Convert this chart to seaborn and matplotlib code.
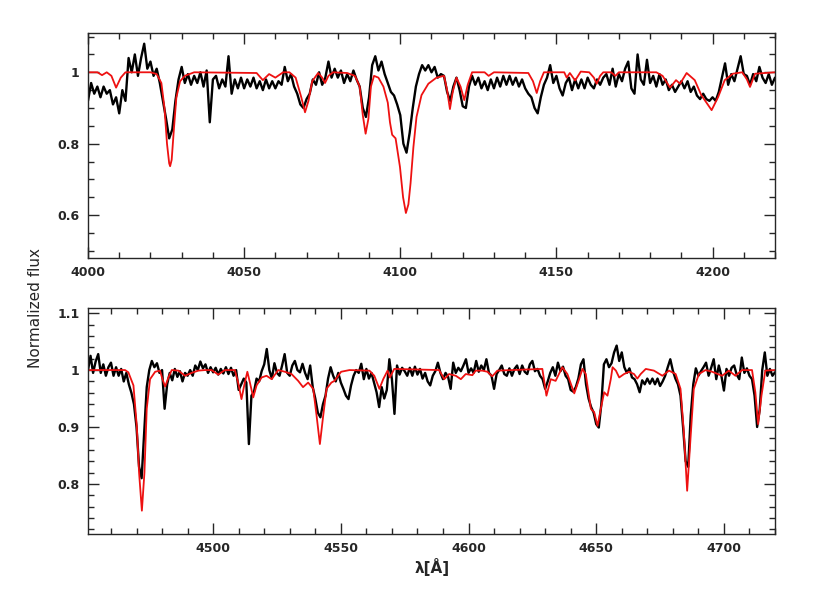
import numpy as np
import matplotlib
matplotlib.use("Agg")
import matplotlib.pyplot as plt
from matplotlib.ticker import MultipleLocator, FuncFormatter
import seaborn as sns

obs_top_start = 4000
obs_top_flux = [
    0.92, 0.97, 0.94, 0.96, 0.93, 0.96, 0.94, 0.95, 0.91, 0.93,        # 4000
    0.885, 0.95, 0.92, 1.04, 1.00, 1.05, 0.99, 1.04, 1.08, 1.01,       # 4010
    1.03, 0.99, 1.01, 0.97, 0.92, 0.87, 0.815, 0.84, 0.92, 0.98,       # 4020
    1.015, 0.97, 0.995, 0.965, 0.99, 0.97, 1.00, 0.96, 1.005, 0.86,    # 4030
    0.98, 0.99, 0.955, 0.98, 0.96, 1.045, 0.94, 0.98, 0.955, 0.985,    # 4040
    0.955, 0.98, 0.96, 0.985, 0.955, 0.975, 0.95, 0.98, 0.955, 0.975,  # 4050
    0.955, 0.975, 0.965, 1.015, 0.975, 0.995, 0.96, 0.94, 0.91, 0.90,  # 4060
    0.925, 0.94, 0.98, 0.965, 1.00, 0.965, 0.985, 1.03, 0.985, 1.01,   # 4070
    0.985, 1.005, 0.97, 0.995, 0.975, 1.005, 0.98, 0.96, 0.90, 0.875,  # 4080
    0.93, 1.02, 1.045, 1.005, 1.03, 0.995, 0.97, 0.945, 0.935, 0.91,   # 4090
    0.88, 0.80, 0.775, 0.83, 0.90, 0.96, 0.995, 1.02, 1.005, 1.02,     # 4100
    1.00, 1.015, 0.985, 0.995, 0.99, 0.945, 0.92, 0.96, 0.985, 0.95,   # 4110
    0.905, 0.90, 0.96, 0.99, 0.965, 0.985, 0.955, 0.975, 0.95, 0.98,   # 4120
    0.955, 0.985, 0.96, 0.99, 0.965, 0.99, 0.965, 0.985, 0.96, 0.98,   # 4130
    0.955, 0.94, 0.93, 0.90, 0.885, 0.93, 0.965, 0.985, 1.02, 0.97,    # 4140
    0.99, 0.955, 0.935, 0.97, 0.985, 0.95, 0.98, 0.955, 0.98, 0.955,   # 4150
    0.985, 0.965, 0.955, 0.98, 0.965, 0.985, 0.995, 0.965, 1.01, 0.96, # 4160
    0.995, 0.975, 1.01, 1.03, 0.955, 0.94, 1.05, 0.98, 0.965, 1.035,   # 4170
    0.97, 0.99, 0.96, 0.995, 0.965, 0.98, 0.95, 0.965, 0.945, 0.96,    # 4180
    0.975, 0.955, 0.975, 0.945, 0.96, 0.935, 0.925, 0.94, 0.925, 0.92, # 4190
    0.93, 0.92, 0.945, 0.985, 1.025, 0.965, 0.995, 0.975, 1.01, 1.045, # 4200
    0.995, 0.99, 0.965, 0.995, 0.975, 1.015, 0.985, 0.97, 0.995, 0.965,  # 4210
    0.985,                                                             # 4220
]

obs_bot_start = 4451
obs_bot_flux = [
    1.00, 1.025, 0.995, 1.015, 1.028, 0.995, 1.01, 0.99, 1.005, 1.013,   # 4451
    0.99, 1.005, 0.99, 1.002, 0.98, 0.995, 0.975, 0.96, 0.94, 0.90,      # 4461
    0.83, 0.81, 0.89, 0.97, 1.00, 1.016, 1.005, 1.012, 0.995, 1.00,      # 4471
    0.932, 0.975, 0.995, 0.982, 1.002, 0.988, 0.998, 0.98, 0.995, 0.99,  # 4481
    1.00, 0.99, 1.008, 1.00, 1.015, 1.003, 1.01, 0.995, 1.005, 0.996,    # 4491
    1.004, 0.992, 1.002, 0.994, 1.005, 0.993, 1.004, 0.99, 1.00, 0.965,  # 4501
    0.975, 0.985, 0.978, 0.87, 0.955, 0.962, 0.985, 0.98, 0.998, 1.01,   # 4511
    1.037, 1.00, 0.985, 1.012, 0.995, 0.99, 1.008, 1.028, 0.995, 0.99,   # 4521
    1.008, 1.016, 1.00, 0.996, 1.011, 0.995, 0.984, 1.008, 0.97, 0.95,   # 4531
    0.925, 0.917, 0.94, 0.955, 0.985, 1.005, 0.99, 0.98, 0.995, 0.978,   # 4541
    0.967, 0.955, 0.949, 0.973, 0.99, 1.00, 0.995, 1.011, 0.984, 1.002,  # 4551
    0.985, 0.995, 0.978, 0.961, 0.935, 0.97, 0.95, 0.965, 1.019, 0.984,  # 4561
    0.923, 1.008, 0.992, 1.004, 0.998, 0.99, 1.004, 0.99, 1.006, 0.992,  # 4571
    1.002, 0.985, 0.995, 0.98, 0.973, 0.99, 0.998, 1.013, 0.995, 0.984,  # 4581
    0.995, 0.988, 0.967, 1.013, 0.995, 1.004, 0.998, 1.008, 1.019, 0.995,  # 4591
    1.003, 0.995, 1.016, 0.997, 1.008, 1.00, 1.019, 0.995, 0.99, 0.967,  # 4601
    0.993, 1.00, 1.008, 0.993, 0.99, 1.003, 0.99, 1.002, 1.008, 0.993,   # 4611
    1.008, 0.997, 0.993, 1.01, 1.016, 0.998, 1.002, 0.99, 0.984, 0.967,  # 4621
    0.98, 0.995, 1.005, 0.99, 1.013, 0.998, 1.006, 0.99, 0.984, 0.965,   # 4631
    0.962, 0.97, 0.985, 1.01, 1.019, 0.975, 0.95, 0.935, 0.925, 0.905,   # 4641
    0.899, 0.94, 1.01, 1.019, 1.005, 1.012, 1.031, 1.043, 1.016, 1.031,  # 4651
    1.005, 0.995, 1.003, 0.987, 0.984, 0.975, 0.961, 0.982, 0.975, 0.985,  # 4661
    0.976, 0.985, 0.975, 0.985, 0.972, 0.98, 0.99, 1.005, 1.019, 0.999,  # 4671
    0.985, 0.975, 0.955, 0.90, 0.84, 0.83, 0.92, 0.975, 1.003, 0.99,     # 4681
    0.998, 1.005, 1.013, 0.99, 1.004, 1.019, 0.984, 1.008, 0.99, 0.964,  # 4691
    1.002, 0.99, 1.004, 1.008, 0.992, 0.984, 1.022, 0.995, 1.003, 0.99,  # 4701
    0.984, 0.955, 0.90, 0.93, 1.00, 1.031, 0.99, 1.002, 0.99, 0.996,     # 4711
]

# --- model spectrum (red) ---
mod_top_wave = [
    4000.0, 4003.0, 4004.5, 4006.0, 4007.5, 4009.0, 4010.5, 4012.0, 4020.0, 4022.0,
    4023.5, 4024.5, 4025.3, 4026.0, 4026.3, 4026.8, 4027.5, 4028.3, 4029.5, 4031.0,
    4034.0, 4054.0, 4056.0, 4058.0, 4060.0, 4062.5, 4064.5, 4066.5, 4068.3, 4069.5,
    4070.6, 4071.8, 4073.7, 4075.0, 4075.9, 4077.0, 4078.5, 4083.0, 4085.5, 4087.0,
    4088.0, 4088.9, 4089.8, 4090.6, 4091.6, 4093.0, 4094.6, 4096.0, 4096.7, 4097.4,
    4098.5, 4099.9, 4100.9, 4101.8, 4102.6, 4103.3, 4104.2, 4105.2, 4106.8, 4109.0,
    4111.6, 4114.0, 4115.0, 4115.9, 4116.8, 4118.0, 4119.3, 4120.5, 4121.6, 4123.0,
    4127.0, 4128.3, 4130.0, 4141.0, 4142.5, 4143.7, 4144.8, 4146.0, 4152.5, 4153.3,
    4154.3, 4156.0, 4157.8, 4160.5, 4162.0, 4162.9, 4164.0, 4165.0, 4167.5, 4168.9,
    4170.0, 4182.0, 4184.0, 4186.4, 4188.3, 4189.6, 4191.7, 4194.3, 4196.4, 4199.7,
    4201.8, 4203.9, 4206.5, 4209.5, 4211.0, 4212.0, 4213.6, 4220.0,
]
mod_top_flux = [
    1.000, 1.000, 0.992, 1.000, 0.990, 0.957, 0.985, 1.000, 1.000, 0.995,
    0.970, 0.900, 0.800, 0.745, 0.737, 0.755, 0.840, 0.930, 0.975, 0.990,
    1.000, 0.998, 0.978, 0.995, 0.985, 1.000, 1.000, 0.985, 0.930, 0.888,
    0.920, 0.975, 0.998, 0.985, 0.970, 0.990, 1.000, 0.998, 0.990, 0.960,
    0.880, 0.828, 0.870, 0.960, 0.990, 0.985, 0.960, 0.915, 0.860, 0.825,
    0.815, 0.735, 0.650, 0.606, 0.630, 0.690, 0.790, 0.875, 0.936, 0.968,
    0.985, 0.990, 0.950, 0.897, 0.945, 0.985, 0.960, 0.922, 0.965, 1.000,
    1.000, 0.990, 1.000, 0.998, 0.975, 0.942, 0.975, 1.000, 1.000, 0.985,
    0.998, 0.977, 1.002, 1.000, 0.985, 0.968, 0.990, 1.000, 1.000, 0.990,
    1.000, 1.000, 0.990, 0.957, 0.978, 0.968, 0.998, 0.978, 0.936, 0.894,
    0.931, 0.978, 0.996, 1.000, 0.980, 0.959, 0.996, 1.000,
]

mod_bot_wave = [
    4451.0, 4465.5, 4466.8, 4468.8, 4470.1, 4471.0, 4472.1, 4473.1, 4474.0, 4475.3,
    4477.3, 4479.2, 4480.1, 4481.2, 4482.5, 4483.8, 4486.4, 4489.0, 4491.6, 4494.2,
    4496.8, 4499.4, 4502.0, 4504.6, 4508.5, 4509.8, 4511.1, 4512.4, 4513.4, 4514.4,
    4515.7, 4517.0, 4519.0, 4520.9, 4522.9, 4525.5, 4528.1, 4530.7, 4533.3, 4535.2,
    4537.2, 4539.2, 4540.5, 4541.8, 4543.1, 4544.4, 4546.3, 4547.5, 4550.1, 4553.4,
    4561.2, 4563.1, 4565.1, 4566.6, 4568.3, 4569.2, 4570.9, 4588.5, 4590.5, 4592.4,
    4595.0, 4597.0, 4598.9, 4601.5, 4602.8, 4605.4, 4607.4, 4609.3, 4611.3, 4628.9,
    4630.5, 4632.2, 4634.1, 4636.7, 4638.7, 4641.4, 4643.3, 4644.6, 4645.9, 4647.9,
    4649.2, 4650.5, 4651.8, 4653.1, 4654.4, 4655.7, 4656.4, 4657.7, 4659.0, 4660.9,
    4662.9, 4664.8, 4666.1, 4667.4, 4669.4, 4672.6, 4675.9, 4678.5, 4681.1, 4683.0,
    4684.3, 4685.6, 4686.9, 4688.2, 4690.2, 4692.8, 4695.4, 4699.3, 4701.9, 4704.5,
    4707.1, 4711.0, 4712.3, 4713.4, 4714.7, 4716.2, 4720.0,
]
mod_bot_flux = [
    1.000, 1.000, 0.996, 0.973, 0.902, 0.820, 0.753, 0.820, 0.932, 0.984,
    0.997, 0.999, 0.985, 0.971, 0.987, 1.000, 0.999, 0.990, 0.995, 0.999,
    1.000, 1.000, 0.992, 1.000, 1.000, 0.978, 0.949, 0.978, 0.997, 0.978,
    0.952, 0.973, 0.987, 0.990, 0.984, 1.000, 0.997, 0.993, 0.981, 0.970,
    0.978, 0.967, 0.920, 0.870, 0.920, 0.967, 0.978, 0.981, 0.997, 1.000,
    0.999, 0.990, 0.967, 0.984, 0.999, 0.987, 1.002, 1.000, 0.984, 0.993,
    0.990, 0.984, 0.993, 0.991, 0.999, 0.999, 0.997, 0.989, 0.999, 1.002,
    0.955, 0.984, 0.981, 1.005, 0.993, 0.959, 0.984, 1.002, 0.993, 0.932,
    0.926, 0.902, 0.932, 0.961, 0.955, 0.984, 1.005, 0.999, 0.987, 0.993,
    0.997, 0.993, 0.985, 0.993, 1.002, 0.999, 0.990, 0.999, 0.993, 0.967,
    0.891, 0.788, 0.879, 0.967, 0.993, 1.000, 0.997, 0.990, 0.999, 0.990,
    1.000, 1.000, 0.961, 0.905, 0.955, 0.999, 1.000,
]

top_xticks = [4000, 4050, 4100, 4150, 4200]
top_yticks = [0.6, 0.8, 1.0]
bot_xticks = [4500, 4550, 4600, 4650, 4700]
bot_yticks = [0.8, 0.9, 1.0, 1.1]

sns.set_style("ticks")
plt.rcParams['font.family'] = ['DejaVu Sans']

fig = plt.figure(figsize=(8.17, 5.99), dpi=100)
ax1 = fig.add_axes([0.1077, 0.5693, 0.8409, 0.3756])
ax2 = fig.add_axes([0.1077, 0.1085, 0.8409, 0.3773])

panels = [
    (ax1, obs_top_start, obs_top_flux, mod_top_wave, mod_top_flux,
     (4000, 4220), (0.48, 1.11), top_xticks, top_yticks, 10, 0.05),
    (ax2, obs_bot_start, obs_bot_flux, mod_bot_wave, mod_bot_flux,
     (4451, 4720), (0.712, 1.109), bot_xticks, bot_yticks, 10, 0.02),
]

fmt = FuncFormatter(lambda v, pos: f"{v:g}")
for ax, start, oflux, mwave, mflux, xl, yl, xt, yt, xminor, yminor in panels:
    owave = start + np.arange(len(oflux))
    sns.lineplot(x=owave, y=oflux, ax=ax, color="black", lw=1.7, estimator=None, sort=False)
    sns.lineplot(x=mwave, y=mflux, ax=ax, color="#ee1111", lw=1.3, estimator=None, sort=False)
    ax.set_xlim(*xl)
    ax.set_ylim(*yl)
    ax.set_xticks(xt)
    ax.set_yticks(yt)
    ax.xaxis.set_minor_locator(MultipleLocator(xminor))
    ax.yaxis.set_minor_locator(MultipleLocator(yminor))
    ax.yaxis.set_major_formatter(fmt)
    ax.tick_params(which="both", direction="in", top=True, right=True, width=1.0)
    ax.tick_params(which="major", length=8, labelsize=9, pad=6)
    ax.tick_params(which="minor", length=4)
    for lab in ax.get_xticklabels() + ax.get_yticklabels():
        lab.set_fontweight("bold")
    for sp in ax.spines.values():
        sp.set_linewidth(1.0)
    ax.set_xlabel("")
    ax.set_ylabel("")

fig.text(0.043, 0.485, "Normalized flux", rotation=90, ha="center", va="center", fontsize=11)
fig.text(0.529, 0.053, "λ[Å]", ha="center", va="center", fontsize=11, fontweight="bold")

fig.savefig("out.png", dpi=100)
